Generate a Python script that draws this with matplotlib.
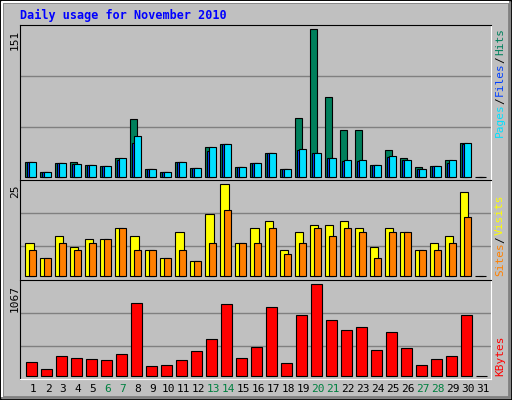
import matplotlib
matplotlib.use("Agg")
import matplotlib.pyplot as plt
import numpy as np
from matplotlib.patches import Rectangle

days = np.arange(1, 32)
hits = [15, 5, 14, 15, 12, 11, 19, 59, 8, 5, 15, 9, 30, 33, 10, 14, 24, 8, 60, 151,
        82, 48, 48, 12, 27, 19, 10, 11, 17, 34, 0]
files = [15, 5, 14, 13, 12, 11, 17, 35, 8, 5, 15, 9, 26, 33, 10, 14, 24, 8, 27, 24,
         19, 16, 16, 12, 20, 17, 8, 11, 14, 33, 0]
pages = [15, 5, 14, 13, 12, 11, 19, 42, 8, 5, 15, 9, 30, 33, 10, 14, 24, 8, 28, 24,
         19, 17, 17, 12, 21, 17, 8, 11, 17, 34, 0]
visits = [9, 5, 11, 8, 10, 10, 13, 11, 7, 5, 12, 4, 17, 25, 9, 13, 15, 7, 12, 14,
          14, 15, 13, 8, 13, 12, 7, 9, 11, 23, 0]
sites = [7, 5, 9, 7, 9, 10, 13, 7, 7, 5, 7, 4, 9, 18, 9, 9, 13, 6, 9, 13,
         11, 13, 12, 5, 12, 12, 7, 7, 9, 16, 0]
kbytes = [156, 74, 226, 202, 191, 179, 249, 845, 109, 121, 179, 284, 424, 833, 202,
          331, 798, 144, 705, 1067, 646, 530, 565, 296, 506, 319, 121, 191, 226, 705, 0]
weekend = {6, 7, 13, 14, 20, 21, 27, 28}

BG = "#C0C0C0"
W, H = 512, 400
MONO = "DejaVu Sans Mono"

fig = plt.figure(figsize=(W / 100, H / 100), dpi=100, facecolor=BG)


def fx(x):
    return x / W


def fy(y):
    return 1 - y / H


# outer 3D frame
fig.patches.append(Rectangle((0, 0), 1, 1, transform=fig.transFigure,
                             fill=False, edgecolor="black", linewidth=2))
fig.patches.append(Rectangle((fx(2), fy(397)), fx(507), 395 / H, transform=fig.transFigure,
                             fill=False, edgecolor="#808080", linewidth=2))
fig.lines.append(plt.Line2D([fx(2), fx(2), fx(508)], [fy(396), fy(2), fy(2)],
                            transform=fig.transFigure, color="white", linewidth=1.5))


def panel(top, bottom, ylim, grid):
    ax = fig.add_axes([fx(20), fy(bottom), fx(471), (bottom - top) / H])
    ax.set_facecolor(BG)
    ax.set_xlim(0.13, 31.53)
    ax.set_ylim(*ylim)
    for g in grid:
        ax.axhline(g, color="#808080", linewidth=1, zorder=0)
    ax.set_xticks([])
    ax.set_yticks([])
    ax.spines["top"].set_color("black")
    ax.spines["left"].set_color("black")
    ax.spines["right"].set_color("white")
    ax.spines["bottom"].set_color("white")
    return ax


kw = dict(align="edge", edgecolor="black", linewidth=0.8)

ax1 = panel(25, 180, (-3.4, 155.4), [50.6, 102.8])
ax1.bar(days - 0.53, hits, width=0.47, color="#00805C", **kw)
ax1.bar(days - 0.40, files, width=0.47, color="#0040FF", **kw)
ax1.bar(days - 0.27, pages, width=0.49, color="#00E0FF", **kw)

ax2 = panel(180, 280, (-1.1, 26.2), [8.1, 17.1])
ax2.bar(days - 0.53, visits, width=0.56, color="#FFFF00", **kw)
ax2.bar(days - 0.27, sites, width=0.49, color="#FF8000", **kw)

ax3 = panel(280, 379, (-38.5, 1117), [347, 728])
ax3.bar(days - 0.47, kbytes, width=0.72, color="#FF0000", **kw)

fig.text(fx(20), fy(15), "Daily usage for November 2010", color="#0000FF",
         family=MONO, fontweight="bold", fontsize=8.5, va="center")

# left max labels
for y, s in [(30, "151"), (185, "25"), (285, "1067")]:
    fig.text(fx(15), fy(y), s, rotation=90, ha="center", va="top",
             family=MONO, fontsize=8)


def right_label(parts, y_bottom):
    y = y_bottom
    for s, c in parts:
        fig.text(fx(500), fy(y), s, rotation=90, ha="center", va="bottom",
                 color=c, family=MONO, fontsize=8)
        y -= len(s) * 6.2 + 2


right_label([("Pages", "#00E0FF"), ("/", "black"), ("Files", "#0040FF"),
             ("/", "black"), ("Hits", "#00805C")], 137)
right_label([("Sites", "#FF8000"), ("/", "black"), ("Visits", "#FFFF00")], 276)
right_label([("KBytes", "#FF0000")], 376)

for d in days:
    x = 20 + (d - 0.13) * 15.0
    fig.text(fx(x), fy(389), str(d), ha="center", va="center", family=MONO,
             fontsize=8, color="#008040" if d in weekend else "black")

fig.savefig("out.png", dpi=100, facecolor=BG)
